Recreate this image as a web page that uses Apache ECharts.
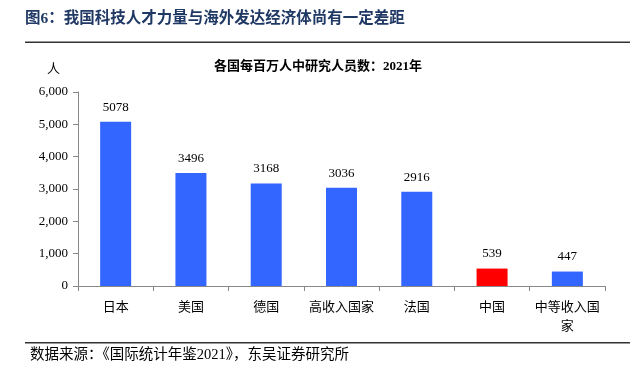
<!DOCTYPE html>
<html><head><meta charset="utf-8">
<script src="https://cdn.jsdelivr.net/npm/echarts@6/dist/echarts.min.js"></script>
<style>html,body{margin:0;padding:0;background:#fff}#c{width:640px;height:385px}</style>
</head><body><div id="c"></div>
<script>
const categories = ['日本','美国','德国','高收入国家','法国','中国','中等收入国\n家'];
const values = [5078, 3496, 3168, 3036, 2916, 539, 447];
const highlight = '中国';
const yTicks = [0, 1000, 2000, 3000, 4000, 5000, 6000];

const serif = '"Liberation Serif","Noto Sans CJK SC",serif';
const chart = echarts.init(document.getElementById('c'));
chart.setOption({
  animation: false,
  graphic: [
    {type:'text', left: 25, top: 11, style:{text:'图6：我国科技人才力量与海外发达经济体尚有一定差距', font:'bold 15.5px "Liberation Serif","Noto Sans CJK SC"', fill:'#1F3864'}},
    {type:'rect', shape:{x:25,y:41.5,width:605,height:1.5}, style:{fill:'#333'}},
    {type:'text', left: 214, top: 60, style:{text:'各国每百万人中研究人员数：2021年', font:'bold 13px "Liberation Serif","Noto Sans CJK SC"', fill:'#000'}},
    {type:'text', left: 47, top: 62, style:{text:'人', font:'13px "Noto Sans CJK SC"', fill:'#000'}},
    {type:'rect', shape:{x:25,y:342,width:605,height:1.5}, style:{fill:'#333'}},
    {type:'text', left: 30, top: 348, style:{text:'数据来源：《国际统计年鉴2021》，东吴证券研究所', font:'14.5px "Liberation Serif","Noto Sans CJK SC"', fill:'#000'}}
  ],
  grid: {left: 78, right: 35, top: 92, bottom: 99},
  xAxis: {
    type: 'category', data: categories,
    axisLine: {lineStyle:{color:'#888'}},
    axisTick: {show:true, alignWithLabel:false, length:5, lineStyle:{color:'#888'}},
    axisLabel: {color:'#000', fontSize:13, fontFamily: serif, margin: 12, interval: 0, lineHeight: 19}
  },
  yAxis: {
    type: 'value', min: 0, max: 6000, interval: 1000,
    axisLine: {show:true, lineStyle:{color:'#888'}},
    axisTick: {show:true, length:5, lineStyle:{color:'#888'}},
    splitLine: {show:false},
    axisLabel: {color:'#000', fontSize:13, fontFamily: serif, margin: 10,
      formatter: v => v.toLocaleString('en-US')}
  },
  series: [{
    type: 'bar', barWidth: 31,
    data: values.map((v,i) => ({value:v, itemStyle:{color: categories[i]===highlight ? '#FF0000' : '#3366FF'}})),
    label: {show:true, position:'top', distance: 8, color:'#000', fontSize:13, fontFamily: serif}
  }]
});
</script></body></html>
